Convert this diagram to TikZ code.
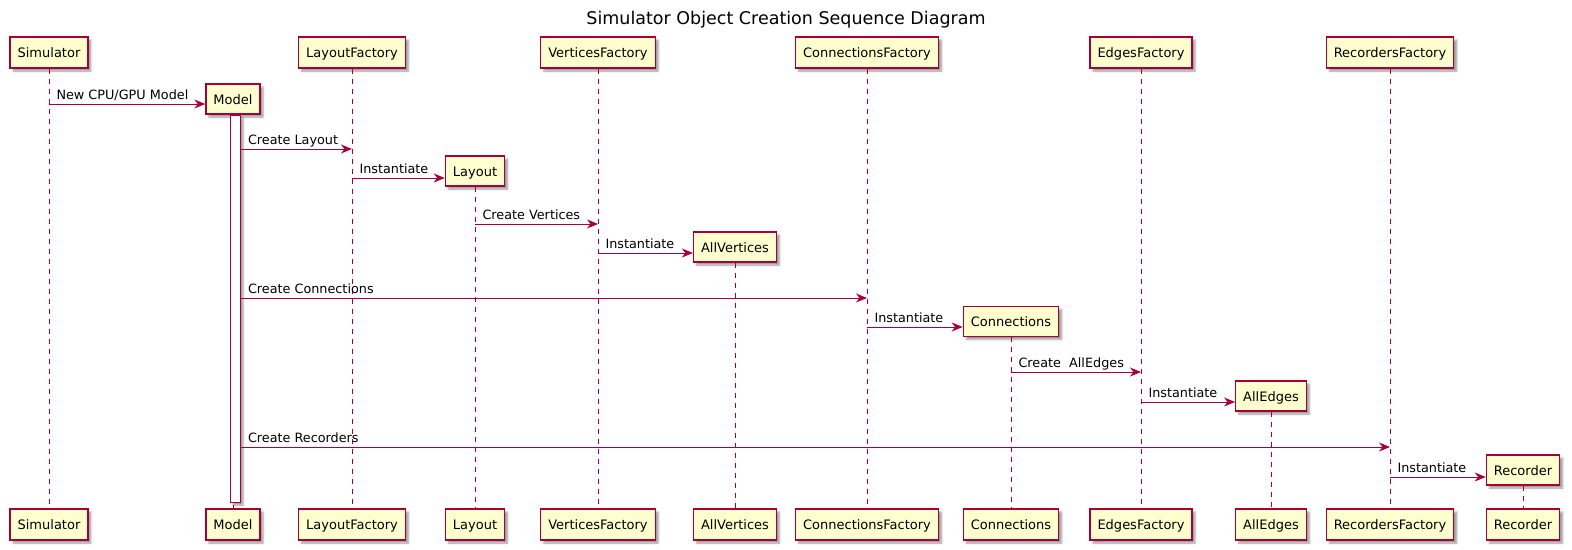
\documentclass[tikz,border=0pt]{standalone}
\usepackage{fontspec}
\setmainfont{DejaVu Sans}
\usetikzlibrary{arrows.meta,shadows.blur}
\definecolor{pborder}{HTML}{A80036}
\definecolor{pfill}{HTML}{FEFECE}
\tikzset{
  part/.style={draw=pborder, fill=pfill, line width=1.3pt, rectangle, inner xsep=7.5pt, inner ysep=0pt,
    minimum height=31pt, text height=10pt, text depth=0pt, font=\fontsize{13}{15}\selectfont,
    blur shadow={shadow xshift=3pt, shadow yshift=-3pt, shadow blur radius=2pt, shadow opacity=40}},
  cpart/.style={part, minimum height=30pt},
  life/.style={draw=pborder, line width=1pt, dash pattern=on 5pt off 5pt},
  msg/.style={draw=pborder, line width=1pt, -{Stealth[length=11pt,width=9pt,inset=3.5pt]}},
  lbl/.style={anchor=base west, inner sep=0pt, xshift=7pt, yshift=5pt, font=\fontsize{12.8}{15}\selectfont, text=black},
  actbar/.style={draw=pborder, fill=white, line width=1pt, minimum width=10pt, inner sep=0pt,
    blur shadow={shadow xshift=3pt, shadow yshift=-3pt, shadow blur radius=2pt, shadow opacity=40}}
}
\begin{document}
\begin{tikzpicture}[x=1pt,y=-1pt]
\useasboundingbox (0,0) rectangle (1572,549);
\node[font=\fontsize{17.5}{20}\selectfont] (title) at (786,20) {Simulator Object Creation Sequence Diagram};

% message rows
\coordinate (r1) at (0,104);
\coordinate (r2) at (0,149);
\coordinate (r3) at (0,178);
\coordinate (r4) at (0,224);
\coordinate (r5) at (0,253);
\coordinate (r6) at (0,298);
\coordinate (r7) at (0,327);
\coordinate (r8) at (0,372);
\coordinate (r9) at (0,402);
\coordinate (r10) at (0,447);
\coordinate (r11) at (0,477);

% top participants
\node[part] (simT) at (49,52.5) {Simulator};
\node[part] (lfT) at (352,52.5) {LayoutFactory};
\node[part] (vfT) at (598,52.5) {VerticesFactory};
\node[part] (cfT) at (867,52.5) {ConnectionsFactory};
\node[part] (efT) at (1141,52.5) {EdgesFactory};
\node[part] (rfT) at (1390,52.5) {RecordersFactory};

% bottom participants
\node[part] (simB) at (49,524.5) {Simulator};
\node[part] (modB) at (233,524.5) {Model};
\node[part] (lfB) at (352,524.5) {LayoutFactory};
\node[part] (layB) at (475,524.5) {Layout};
\node[part] (vfB) at (598,524.5) {VerticesFactory};
\node[part] (avB) at (735,524.5) {AllVertices};
\node[part] (cfB) at (867,524.5) {ConnectionsFactory};
\node[part] (conB) at (1011,524.5) {Connections};
\node[part] (efB) at (1141,524.5) {EdgesFactory};
\node[part] (aeB) at (1271,524.5) {AllEdges};
\node[part] (rfB) at (1390,524.5) {RecordersFactory};
\node[part] (recB) at (1523,524.5) {Recorder};

% created participants
\node[cpart] (mod) at (233,99) {Model};
\node[cpart] (lay) at (475,171) {Layout};
\node[cpart] (av) at (735,247) {AllVertices};
\node[cpart] (con) at (1011,321.5) {Connections};
\node[cpart] (ae) at (1271,396) {AllEdges};
\node[cpart] (rec) at (1523,470) {Recorder};

% lifelines
\draw[life] (simT.south) -- (simB.north);
\draw[life] (lfT.south) -- (lfB.north);
\draw[life] (vfT.south) -- (vfB.north);
\draw[life] (cfT.south) -- (cfB.north);
\draw[life] (efT.south) -- (efB.north);
\draw[life] (rfT.south) -- (rfB.north);
\draw[life] (mod.south) -- (modB.north);
\draw[life] (lay.south) -- (layB.north);
\draw[life] (av.south) -- (avB.north);
\draw[life] (con.south) -- (conB.north);
\draw[life] (ae.south) -- (aeB.north);
\draw[life] (rec.south) -- (recB.north);

% activation of Model
\node[actbar, minimum height=387pt] (act) at (235,308.5) {};

% messages
\draw[msg] (simT |- r1) -- (mod.west |- r1) node[lbl, pos=0] {New CPU/GPU Model};
\draw[msg] (act.east |- r2) -- (lfT |- r2) node[lbl, pos=0] {Create Layout};
\draw[msg] (lfT |- r3) -- (lay.west |- r3) node[lbl, pos=0] {Instantiate};
\draw[msg] (lay |- r4) -- (vfT |- r4) node[lbl, pos=0] {Create Vertices};
\draw[msg] (vfT |- r5) -- (av.west |- r5) node[lbl, pos=0] {Instantiate};
\draw[msg] (act.east |- r6) -- (cfT |- r6) node[lbl, pos=0] {Create Connections};
\draw[msg] (cfT |- r7) -- (con.west |- r7) node[lbl, pos=0] {Instantiate};
\draw[msg] (con |- r8) -- (efT |- r8) node[lbl, pos=0] {Create\ \ AllEdges};
\draw[msg] (efT |- r9) -- (ae.west |- r9) node[lbl, pos=0] {Instantiate};
\draw[msg] (act.east |- r10) -- (rfT |- r10) node[lbl, pos=0] {Create Recorders};
\draw[msg] (rfT |- r11) -- (rec.west |- r11) node[lbl, pos=0] {Instantiate};
\end{tikzpicture}
\end{document}
